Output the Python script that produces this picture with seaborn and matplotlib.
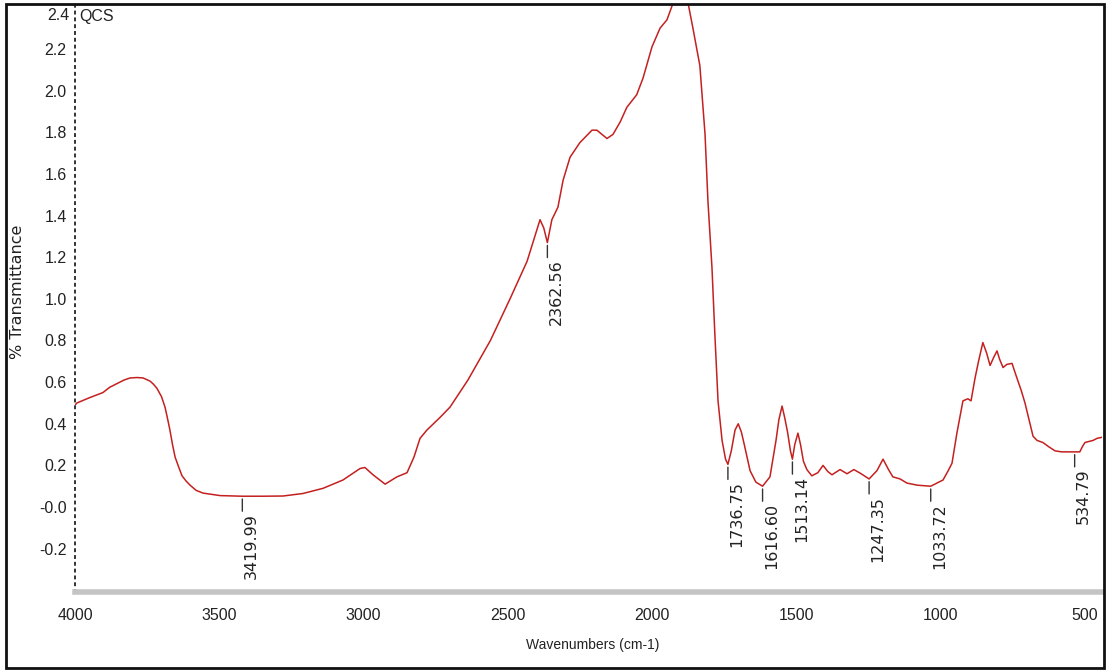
import numpy as np
import pandas as pd
import matplotlib
matplotlib.use("Agg")
import matplotlib.pyplot as plt
from matplotlib.patches import Rectangle
from matplotlib.ticker import MultipleLocator, FixedLocator, FixedFormatter
import seaborn as sns

# FTIR spectrum of the QCS sample (wavenumber in cm-1, descending)
wavenumber = [
    4000, 3993, 3950, 3903, 3880, 3844, 3830, 3809, 3785, 3764, 3740, 3728,
    3716, 3700, 3688, 3680, 3671, 3662, 3653, 3640, 3629, 3615, 3601, 3580,
    3556, 3497, 3419.99, 3350, 3279, 3210, 3140, 3071, 3012, 2995, 2967, 2925,
    2884, 2849, 2825, 2804, 2780, 2735, 2700, 2638, 2560, 2492, 2433, 2388,
    2375, 2362.56, 2347, 2326, 2308, 2284, 2250, 2208, 2191, 2156, 2135, 2110,
    2087, 2053, 2031, 2000, 1972, 1948, 1927, 1915, 1903, 1890, 1879, 1858,
    1834, 1816, 1806, 1792, 1782, 1771, 1757, 1745, 1736.75, 1725, 1712, 1701,
    1690, 1680, 1660, 1640, 1616.60, 1591, 1570, 1560, 1549, 1540, 1530, 1520,
    1513.14, 1505, 1494, 1485, 1475, 1463, 1446, 1425, 1407, 1390, 1376, 1348,
    1324, 1300, 1275, 1247.35, 1220, 1199, 1180, 1165, 1140, 1116, 1080,
    1033.72, 991, 975, 960, 943, 922, 905, 894, 880, 868, 853, 840, 828, 815,
    804, 795, 783, 770, 752, 735, 720, 707, 693, 679, 665, 645, 625, 603, 580,
    551, 534.79, 517, 508, 499, 485, 471, 457, 440,
]
transmittance = [
    0.49, 0.50, 0.525, 0.55, 0.575, 0.60, 0.61, 0.62, 0.622, 0.62, 0.605, 0.59,
    0.57, 0.53, 0.48, 0.43, 0.37, 0.30, 0.24, 0.19, 0.15, 0.125, 0.105, 0.08,
    0.067, 0.055, 0.052, 0.052, 0.053, 0.065, 0.09, 0.13, 0.185, 0.19, 0.155, 0.11,
    0.145, 0.165, 0.24, 0.33, 0.37, 0.43, 0.48, 0.61, 0.80, 1.00, 1.18, 1.38,
    1.34, 1.27, 1.38, 1.44, 1.57, 1.68, 1.75, 1.81, 1.81, 1.77, 1.79, 1.85,
    1.92, 1.98, 2.06, 2.21, 2.30, 2.34, 2.42, 2.46, 2.47, 2.47, 2.45, 2.30,
    2.12, 1.79, 1.47, 1.15, 0.83, 0.51, 0.32, 0.23, 0.205, 0.27, 0.37, 0.40,
    0.36, 0.30, 0.175, 0.12, 0.10, 0.145, 0.32, 0.42, 0.485, 0.43, 0.36, 0.27,
    0.23, 0.30, 0.355, 0.30, 0.22, 0.18, 0.15, 0.165, 0.20, 0.17, 0.155, 0.18,
    0.16, 0.18, 0.16, 0.135, 0.175, 0.23, 0.18, 0.145, 0.135, 0.115, 0.105,
    0.10, 0.13, 0.17, 0.21, 0.355, 0.51, 0.52, 0.51, 0.62, 0.70, 0.79, 0.74, 0.68, 0.72,
    0.75, 0.71, 0.67, 0.685, 0.69, 0.62, 0.56, 0.50, 0.42, 0.34, 0.32, 0.31, 0.29, 0.27, 0.265,
    0.265, 0.265, 0.265, 0.29, 0.31, 0.315, 0.32, 0.33, 0.335,
]

# Peak-picked band positions
peak_labels = ["3419.99", "2362.56", "1736.75", "1616.60", "1513.14",
               "1247.35", "1033.72", "534.79"]

x_ticks = [4000, 3500, 3000, 2500, 2000, 1500, 1000, 500]
y_ticks = [-0.2, 0.0, 0.2, 0.4, 0.6, 0.8, 1.0, 1.2, 1.4, 1.6, 1.8, 2.0, 2.2, 2.4]
y_tick_labels = ["-0.2", "-0.0", "0.2", "0.4", "0.6", "0.8", "1.0", "1.2",
                 "1.4", "1.6", "1.8", "2.0", "2.2", "2.4"]

sample_name = "QCS"

sns.set_style("white")
arial_like = ["Liberation Sans", "DejaVu Sans"]
plt.rcParams["font.family"] = ["DejaVu Sans"]

df = pd.DataFrame({"wavenumber": wavenumber, "transmittance": transmittance})

fig = plt.figure(figsize=(11.07, 6.70), dpi=100)
ax = fig.add_axes([75 / 1107, 78 / 670, 1027 / 1107, 588 / 670])

sns.lineplot(data=df, x="wavenumber", y="transmittance", ax=ax, sort=False,
             color="#c42020", linewidth=1.1, estimator=None)

ax.set_xlim(4000, 440)
ax.set_ylim(-0.408, 2.416)
ax.set_xlabel("")
ax.set_ylabel("")

# axes styling
for side in ("top", "right"):
    ax.spines[side].set_visible(False)
ax.spines["left"].set_linestyle((0, (1, 2.5)))
ax.spines["left"].set_linewidth(1.4)
ax.spines["left"].set_color("#333333")
ax.spines["bottom"].set_color("#c4c4c4")
ax.spines["bottom"].set_linewidth(4)

ax.xaxis.set_major_locator(FixedLocator(x_ticks))
ax.xaxis.set_minor_locator(MultipleLocator(100))
ax.yaxis.set_major_locator(FixedLocator(y_ticks))
# the topmost label sits at the frame edge, so it is drawn separately below
ax.yaxis.set_major_formatter(FixedFormatter(y_tick_labels[:-1] + [""]))
ax.tick_params(axis="x", which="both", direction="inout", length=9, width=1,
               color="#111111", pad=7)
ax.tick_params(axis="y", which="major", direction="out", length=4, width=1,
               color="#111111", pad=2)
for lab in ax.get_xticklabels() + ax.get_yticklabels():
    lab.set_family(arial_like)
    lab.set_fontsize(11.5)
    lab.set_color("#222222")
fig.text(69 / 1107, 1 - 15 / 670, y_tick_labels[-1], ha="right", va="center",
         family=arial_like, fontsize=11.5, color="#222222")

# peak markers with vertical wavenumber labels
wn = np.array(wavenumber)
tr = np.array(transmittance)
for lab in peak_labels:
    w = float(lab)
    v = tr[np.argmin(np.abs(wn - w))]
    ax.annotate("", xy=(w, v), xytext=(0, -15), textcoords="offset pixels",
                arrowprops=dict(arrowstyle="-", color="#333333", lw=1,
                                shrinkA=0, shrinkB=2))
    ax.annotate(lab, xy=(w, v), xytext=(9, -17), textcoords="offset pixels",
                rotation=90, ha="center", va="top", fontsize=11.5,
                color="#222222")

fig.text(79 / 1107, 1 - 17 / 670, sample_name, ha="left", va="center",
         family=arial_like, fontsize=11.5, color="#222222")

fig.text(18 / 1107, 1 - 292 / 670, "% Transmittance", rotation=90,
         ha="center", va="center", fontsize=11.5, color="#222222",
         family=["DejaVu Sans"])
fig.text(593 / 1107, 1 - 645 / 670, "Wavenumbers (cm-1)", ha="center",
         va="center", fontsize=10, color="#222222", family=arial_like)

# outer frame
fig.patches.append(Rectangle((6 / 1107, 2 / 670), 1098 / 1107, 664 / 670,
                             transform=fig.transFigure, fill=False,
                             edgecolor="#111111", linewidth=2, zorder=10))

fig.savefig("out.png", dpi=100)
